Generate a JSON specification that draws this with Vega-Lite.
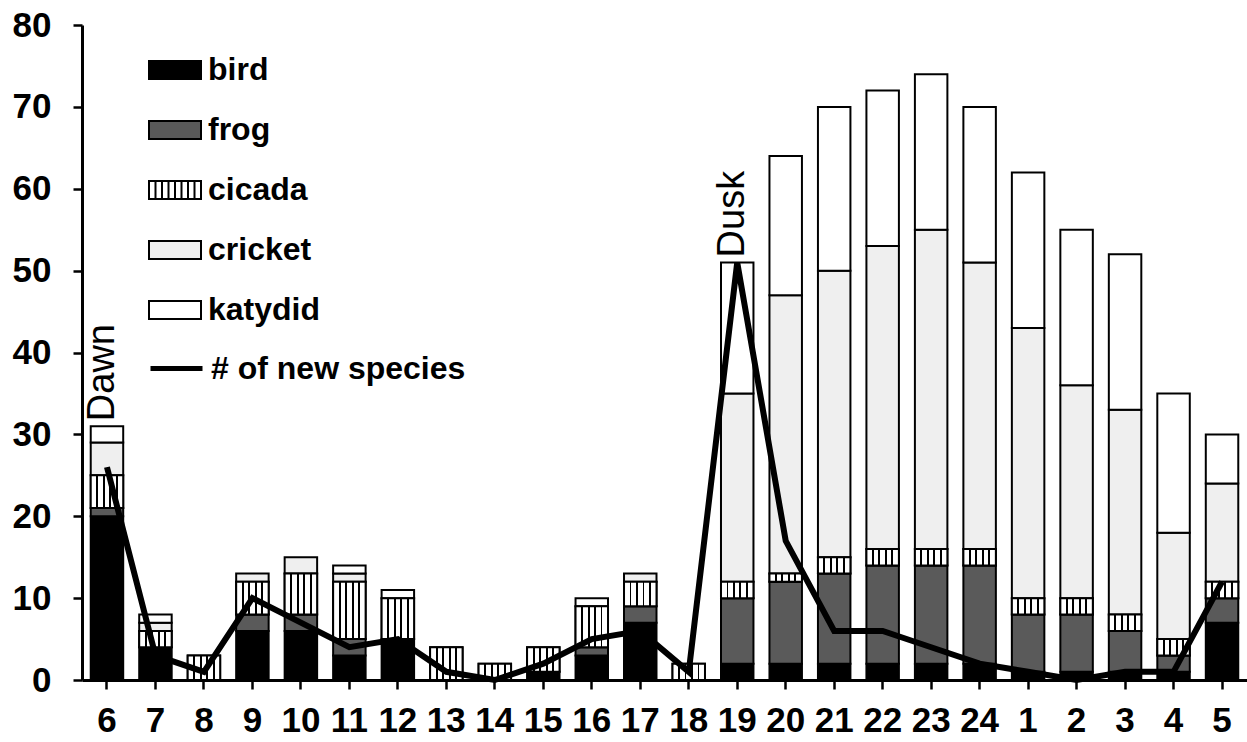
{
  "$schema": "https://vega.github.io/schema/vega-lite/v6.json",
  "width": 1165,
  "height": 655,
  "autosize": {"type": "none"},
  "padding": {"left": 82, "top": 25, "right": 0, "bottom": 62},
  "background": "white",
  "config": {
    "view": {"stroke": null},
    "font": "Liberation Sans",
    "axis": {
      "title": null,
      "grid": false,
      "labelFont": "Liberation Sans",
      "labelFontSize": 35,
      "labelFontWeight": "bold",
      "labelColor": "black",
      "tickColor": "black",
      "tickSize": 9,
      "tickWidth": 2.5,
      "domainColor": "black",
      "domainWidth": 3
    }
  },
  "datasets": {
    "hours": [
      {"hour": "6", "bird": 20, "frog": 1, "cicada": 4, "cricket": 4, "katydid": 2, "new": 26},
      {"hour": "7", "bird": 4, "frog": 0, "cicada": 2, "cricket": 1, "katydid": 1, "new": 3},
      {"hour": "8", "bird": 0, "frog": 0, "cicada": 3, "cricket": 0, "katydid": 0, "new": 1},
      {"hour": "9", "bird": 6, "frog": 2, "cicada": 4, "cricket": 1, "katydid": 0, "new": 10},
      {"hour": "10", "bird": 6, "frog": 2, "cicada": 5, "cricket": 2, "katydid": 0, "new": 7},
      {"hour": "11", "bird": 3, "frog": 2, "cicada": 7, "cricket": 1, "katydid": 1, "new": 4},
      {"hour": "12", "bird": 5, "frog": 0, "cicada": 5, "cricket": 0, "katydid": 1, "new": 5},
      {"hour": "13", "bird": 0, "frog": 0, "cicada": 4, "cricket": 0, "katydid": 0, "new": 1},
      {"hour": "14", "bird": 0, "frog": 0, "cicada": 2, "cricket": 0, "katydid": 0, "new": 0},
      {"hour": "15", "bird": 1, "frog": 0, "cicada": 3, "cricket": 0, "katydid": 0, "new": 2},
      {"hour": "16", "bird": 3, "frog": 1, "cicada": 5, "cricket": 0, "katydid": 1, "new": 5},
      {"hour": "17", "bird": 7, "frog": 2, "cicada": 3, "cricket": 1, "katydid": 0, "new": 6},
      {"hour": "18", "bird": 0, "frog": 0, "cicada": 2, "cricket": 0, "katydid": 0, "new": 1},
      {"hour": "19", "bird": 2, "frog": 8, "cicada": 2, "cricket": 23, "katydid": 16, "new": 51},
      {"hour": "20", "bird": 2, "frog": 10, "cicada": 1, "cricket": 34, "katydid": 17, "new": 17},
      {"hour": "21", "bird": 2, "frog": 11, "cicada": 2, "cricket": 35, "katydid": 20, "new": 6},
      {"hour": "22", "bird": 2, "frog": 12, "cicada": 2, "cricket": 37, "katydid": 19, "new": 6},
      {"hour": "23", "bird": 2, "frog": 12, "cicada": 2, "cricket": 39, "katydid": 19, "new": 4},
      {"hour": "24", "bird": 2, "frog": 12, "cicada": 2, "cricket": 35, "katydid": 19, "new": 2},
      {"hour": "1", "bird": 1, "frog": 7, "cicada": 2, "cricket": 33, "katydid": 19, "new": 1},
      {"hour": "2", "bird": 1, "frog": 7, "cicada": 2, "cricket": 26, "katydid": 19, "new": 0},
      {"hour": "3", "bird": 1, "frog": 5, "cicada": 2, "cricket": 25, "katydid": 19, "new": 1},
      {"hour": "4", "bird": 1, "frog": 2, "cicada": 2, "cricket": 13, "katydid": 17, "new": 1},
      {"hour": "5", "bird": 7, "frog": 3, "cicada": 2, "cricket": 12, "katydid": 6, "new": 12}
    ],
    "notes": [
      {"hour": "6", "total": 31, "label": "Dawn"},
      {"hour": "19", "total": 51, "label": "Dusk"}
    ]
  },
  "layer": [
    {
      "data": {"name": "hours"},
      "transform": [
        {"fold": ["bird", "frog", "cicada", "cricket", "katydid"], "as": ["species", "count"]},
        {"window": [{"op": "row_number", "as": "k"}]},
        {"filter": "datum.count > 0"},
        {"stack": "count", "groupby": ["hour"], "sort": [{"field": "k", "order": "ascending"}], "as": ["y0", "y1"]}
      ],
      "layer": [
        {
          "mark": {"type": "bar", "stroke": "black", "strokeWidth": 2},
          "encoding": {
            "x": {
              "field": "hour", "type": "nominal",
              "scale": {"domain": ["6","7","8","9","10","11","12","13","14","15","16","17","18","19","20","21","22","23","24","1","2","3","4","5"], "paddingInner": 0.33, "paddingOuter": 0.18},
              "axis": {"labelAngle": 0, "labelPadding": 14}
            },
            "y": {
              "field": "y0", "type": "quantitative",
              "scale": {"domain": [0, 80], "nice": false},
              "axis": {"values": [0,10,20,30,40,50,60,70,80], "labelPadding": 22}
            },
            "y2": {"field": "y1"},
            "color": {
              "field": "species", "type": "nominal",
              "scale": {
                "domain": ["bird", "frog", "cicada", "cricket", "katydid"],
                "range": ["#000000", "#5a5a5a", "transparent", "#efefef", "#ffffff"]
              },
              "legend": {
                "orient": "none", "legendX": 66, "legendY": 18, "title": null, "padding": 0,
                "rowPadding": 17, "labelOffset": 6, "labelFontSize": 32, "labelFontWeight": "bold",
                "labelColor": "black", "labelFont": "Liberation Sans", "labelLimit": 400,
                "symbolType": "M-1,-0.35H1V0.35H-1Z", "symbolSize": 2704,
                "symbolStrokeColor": "black", "symbolStrokeWidth": 2, "symbolOpacity": 1
              }
            },
            "strokeDash": {
              "datum": "cicada",
              "scale": {"range": [[1, 0]]},
              "legend": {
                "orient": "none", "legendX": 66, "legendY": 138, "title": null, "padding": 0,
                "labelOffset": 6, "labelFontSize": 32, "labelFontWeight": "bold",
                "labelOpacity": 0, "labelLimit": 400,
                "symbolType": "M-0.75,-0.35V0.35M-0.5,-0.35V0.35M-0.25,-0.35V0.35M0,-0.35V0.35M0.25,-0.35V0.35M0.5,-0.35V0.35M0.75,-0.35V0.35",
                "symbolSize": 2704, "symbolStrokeColor": "black", "symbolStrokeWidth": 2,
                "symbolFillColor": "transparent", "symbolOpacity": 1
              }
            }
          }
        },
        {
          "transform": [{"filter": "datum.species === 'cicada'"}],
          "mark": {
            "type": "bar", "stroke": "black", "strokeWidth": 2,
            "fill": {"gradient": "linear", "x1": 0, "y1": 0, "x2": 1, "y2": 0, "stops": [
              {"offset": 0, "color": "white"}, {"offset": 0.17, "color": "white"},
              {"offset": 0.17, "color": "black"}, {"offset": 0.23, "color": "black"},
              {"offset": 0.23, "color": "white"}, {"offset": 0.37, "color": "white"},
              {"offset": 0.37, "color": "black"}, {"offset": 0.43, "color": "black"},
              {"offset": 0.43, "color": "white"}, {"offset": 0.57, "color": "white"},
              {"offset": 0.57, "color": "black"}, {"offset": 0.63, "color": "black"},
              {"offset": 0.63, "color": "white"}, {"offset": 0.77, "color": "white"},
              {"offset": 0.77, "color": "black"}, {"offset": 0.83, "color": "black"},
              {"offset": 0.83, "color": "white"}, {"offset": 1, "color": "white"}
            ]}
          },
          "encoding": {
            "x": {"field": "hour", "type": "nominal"},
            "y": {"field": "y0", "type": "quantitative"},
            "y2": {"field": "y1"}
          }
        }
      ]
    },
    {
      "data": {"name": "hours"},
      "mark": {"type": "line", "strokeWidth": 6, "strokeJoin": "miter"},
      "encoding": {
        "x": {"field": "hour", "type": "nominal"},
        "y": {"field": "new", "type": "quantitative"},
        "stroke": {
          "datum": "# of new species",
          "scale": {"range": ["black"]},
          "legend": {
            "orient": "none", "legendX": 66, "legendY": 315, "title": null, "padding": 0,
            "labelOffset": 6, "labelFontSize": 32, "labelFontWeight": "bold",
            "labelColor": "black", "labelFont": "Liberation Sans", "labelLimit": 500,
            "symbolType": "stroke", "symbolSize": 2704, "symbolStrokeWidth": 5
          }
        }
      }
    },
    {
      "data": {"name": "notes"},
      "mark": {"type": "text", "angle": 270, "align": "left", "baseline": "middle", "dx": 5, "dy": -4, "fontSize": 38, "font": "Liberation Sans", "color": "black"},
      "encoding": {
        "x": {"field": "hour", "type": "nominal"},
        "y": {"field": "total", "type": "quantitative"},
        "text": {"field": "label"}
      }
    }
  ]
}
